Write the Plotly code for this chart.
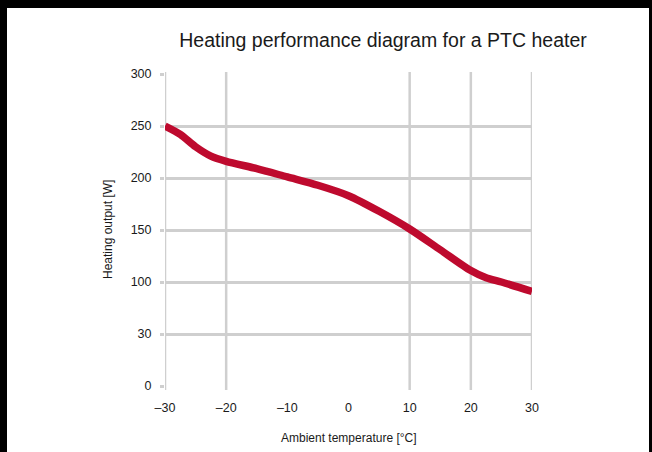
import plotly.graph_objects as go

# Heating output of a PTC heater versus ambient temperature
temperature_c = [-30, -27.5, -25, -22.5, -20, -15, -10, -5, 0, 5, 10, 15, 20, 22.5, 25, 30]
heating_output_w = [250, 242, 230, 221, 216, 209, 201, 193, 183, 168, 151, 131, 111, 104, 100, 91]

x_tickvals = [-30, -20, -10, 0, 10, 20, 30]
x_ticktext = ["\u201330", "\u201320", "\u201310", "0", "10", "20", "30"]
x_gridvals = [-30, -20, 10, 20, 30]

y_tickvals = [0, 50, 100, 150, 200, 250, 300]
y_ticktext = ["0", "30", "100", "150", "200", "250", "300"]

W, H = 652, 452
ML, MR, MT, MB = 165, 120, 74, 66
PW, PH = W - ML - MR, H - MT - MB

FONT = "Liberation Sans, Arial, Helvetica, sans-serif"
GRID = "#cfcfcf"
TEXT = "#1a1a1a"

fig = go.Figure()

# white card inside the black frame (left 7px, top 8px, right 3px)
fig.add_shape(type="rect", xref="paper", yref="paper",
              x0=(7 - ML) / PW, x1=(649 - ML) / PW,
              y0=(H - MB - (H + 5)) / PH, y1=(H - MB - 8) / PH,
              fillcolor="white", line=dict(width=0), layer="below")

# vertical grid lines (only at selected temperatures)
for gx in x_gridvals:
    fig.add_shape(type="line", xref="x", yref="paper", x0=gx, x1=gx, y0=-4 / PH, y1=1 + 2 / PH,
                  line=dict(color=GRID, width=2.5), layer="below")

fig.add_trace(go.Scatter(
    x=temperature_c, y=heating_output_w, mode="lines",
    line=dict(color="#be0a2e", width=7.5, shape="spline", smoothing=0.8),
    showlegend=False, hoverinfo="skip",
))

fig.update_xaxes(
    range=[-30, 30], tickvals=x_tickvals, ticktext=x_ticktext,
    showgrid=False, zeroline=False, showline=False,
    ticks="outside", ticklen=0, tickcolor=GRID, ticklabelstandoff=10,
    tickfont=dict(family=FONT, size=12.5, color=TEXT),
)
fig.update_yaxes(
    range=[0, 300], tickvals=y_tickvals, ticktext=y_ticktext,
    showgrid=True, gridcolor=GRID, gridwidth=2.5, zeroline=False, showline=False,
    ticks="outside", ticklen=4, tickwidth=2.5, tickcolor=GRID, ticklabelstandoff=6,
    tickfont=dict(family=FONT, size=12.5, color=TEXT),
)

fig.add_annotation(text="Heating output [W]", xref="paper", yref="paper",
                   x=(108 - ML) / PW, y=0.5, textangle=-90, showarrow=False,
                   xanchor="center", yanchor="middle",
                   font=dict(family=FONT, size=12, color=TEXT))
fig.add_annotation(text="Ambient temperature [\u00b0C]", xref="paper", yref="paper",
                   x=0.5, y=(H - MB - 438) / PH, showarrow=False,
                   xanchor="center", yanchor="middle",
                   font=dict(family=FONT, size=12, color=TEXT))

fig.update_layout(
    width=W, height=H,
    margin=dict(l=ML, r=MR, t=MT, b=MB),
    paper_bgcolor="black", plot_bgcolor="white",
    title=dict(text="Heating performance diagram for a PTC heater",
               x=383 / W, xanchor="center", y=1 - 40 / H, yanchor="middle",
               xref="container", yref="container",
               font=dict(family=FONT, size=19.5, color=TEXT)),
)

fig.write_html("out.html")
